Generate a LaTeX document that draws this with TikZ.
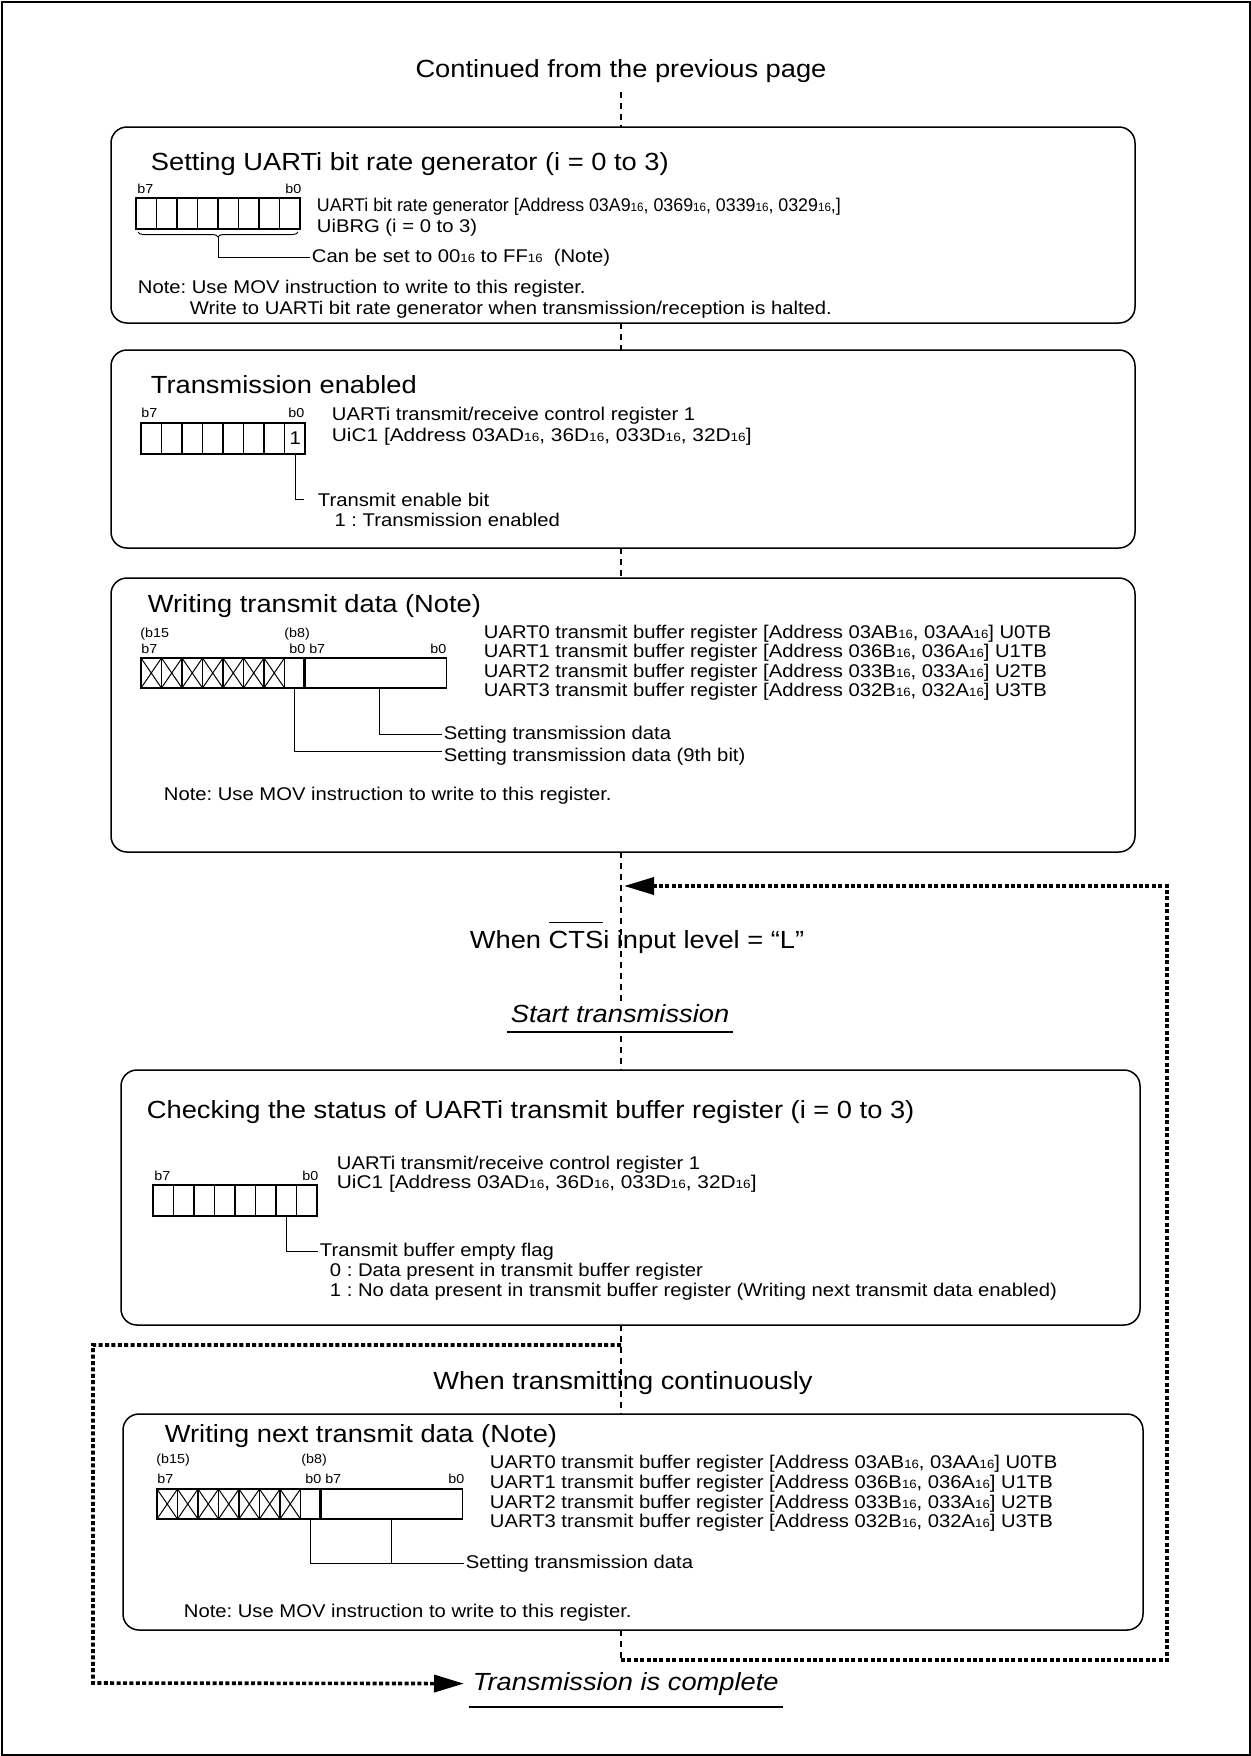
\documentclass[tikz,border=0pt]{standalone}
\usepackage{fontspec}
\usepackage{graphicx}
\setmainfont[FakeStretch=1.1]{Liberation Sans}
\usetikzlibrary{arrows.meta,decorations.pathreplacing}
\frenchspacing
\newcommand{\hx}{{\fontsize{6}{6}\selectfont 16}}
\newcommand{\ovbar}[1]{\setbox0\hbox{#1}\rlap{\rule[12.3pt]{\wd0}{0.7pt}}\box0}
\newcommand{\byteReg}[3]{%
  \draw[reg] (#1,#2) rectangle ++(164,#3);
  \foreach \k in {1,...,7}{\draw[reg] ({#1+20.5*\k},#2) -- ++(0,#3);}
}
\newcommand{\wordReg}[3]{%
  \foreach \k in {0,...,6}{%
    \draw[hatch] ({#1+20.5*\k},#2) -- ++(20.5,#3) ({#1+20.5*\k+20.5},#2) -- ++(-20.5,#3);
    \draw[reg] ({#1+20.5*\k+20.5},#2) -- ++(0,#3);}
  \draw[reg] (#1,#2) rectangle ++(305.5,#3);
  \draw[line width=1.2pt] ({#1+163.5},#2) -- ++(0,#3);
}
\begin{document}
\begin{tikzpicture}[x=0.5pt,y=-0.5pt,
  title/.style={anchor=base west, inner sep=0.75pt, font=\fontsize{12.4}{14}\selectfont},
  body/.style={anchor=base west, inner sep=0.75pt, font=\fontsize{9.2}{11}\selectfont},
  lbl/.style={anchor=base west, inner sep=0pt, font=\fontsize{6.5}{7.5}\selectfont},
  stepbox/.style={draw, line width=0.75pt, rounded corners=8pt, inner sep=0pt, outer sep=0pt},
  cline/.style={line width=0.6pt, dash pattern=on 3pt off 2.5pt},
  loopline/.style={line width=1.8pt, dash pattern=on 2pt off 1.2pt},
  reg/.style={line width=0.8pt},
  hatch/.style={line width=0.5pt},
  lead/.style={line width=0.5pt},
  tip/.style={-{Triangle[length=15pt,width=8.5pt]}}]
\useasboundingbox (0,0) rectangle (1251,1756);
\draw[line width=1pt] (1.5,1.5) rectangle (1249.5,1754.5);
\coordinate (c0) at (621,0);

% heading
\node[anchor=base, inner sep=0.75pt, font=\fontsize{12.4}{14}\selectfont] (cont) at (621,77) {Continued from the previous page};

% ---------------- box 1
\node[stepbox, minimum width=512pt, minimum height=98pt] (b1) at (623,225) {};
\node[title] (t1) at (149,170) {Setting UARTi bit rate generator (i = 0 to 3)};
\node[lbl] (b1l7) at (137,193) {b7};
\node[lbl] (b1l0) at (285,193) {b0};
\byteReg{136}{198}{31}
\draw[lead, decorate, decoration={brace, mirror, amplitude=2.5pt}] (138,232) -- (298,232);
\node[body] (r1a) at (315,211) {\scalebox{0.88}[1]{UARTi bit rate generator [Address 03A9\hx, 0369\hx, 0339\hx, 0329\hx,]}};
\node[body] (r1b) at (315,232) {UiBRG (i = 0 to 3)};
\node[body] (cset) at (310,262) {Can be set to 00\hx{} to FF\hx\ \ (Note)};
\draw[lead] (218,237) |- (cset.west);
\node[body] (n1a) at (136,293) {Note: Use MOV instruction to write to this register.};
\node[body] (n1b) at (188,314) {Write to UARTi bit rate generator when transmission/reception is halted.};

% ---------------- box 2
\node[stepbox, minimum width=512pt, minimum height=99pt] (b2) at (623,449) {};
\node[title] (t2) at (149,393) {Transmission enabled};
\node[lbl] (b2l7) at (141,417) {b7};
\node[lbl] (b2l0) at (288,417) {b0};
\byteReg{141}{423}{31}
\node[inner sep=0pt, font=\fontsize{9.2}{11}\selectfont] (one) at (295.25,438.5) {1};
\node[body] (r2a) at (330,420) {UARTi transmit/receive control register 1};
\node[body] (r2b) at (330,441) {\scalebox{1.03}[1]{UiC1 [Address 03AD\hx, 36D\hx, 033D\hx, 32D\hx]}};
\node[body] (teb) at (316,506) {Transmit enable bit};
\node[body] (teb1) at (327,526) {\ 1 : Transmission enabled};
\draw[lead] (295.25,454) |- ([xshift=-6pt]teb.west);

% ---------------- box 3
\node[stepbox, minimum width=512pt, minimum height=137pt] (b3) at (623,715) {};
\node[title] (t3) at (146,612) {Writing transmit data (Note)};
\node[lbl] (b3a) at (140,637) {(b15};
\node[lbl] (b3b) at (141,653) {b7};
\node[lbl] (b3c) at (284,637) {(b8)};
\node[lbl] (b3d) at (289,653) {b0 b7};
\node[lbl] (b3e) at (430,653) {b0};
\wordReg{141}{658}{30}
\node[body] (u0) at (482,638) {UART0 transmit buffer register [Address 03AB\hx, 03AA\hx] U0TB};
\node[body] (u1) at (482,657.5) {UART1 transmit buffer register [Address 036B\hx, 036A\hx] U1TB};
\node[body] (u2) at (482,677) {UART2 transmit buffer register [Address 033B\hx, 033A\hx] U2TB};
\node[body] (u3) at (482,696.5) {UART3 transmit buffer register [Address 032B\hx, 032A\hx] U3TB};
\node[body] (std) at (442,739) {Setting transmission data};
\node[body] (std9) at (442,761) {Setting transmission data (9th bit)};
\draw[lead] (379,688) |- (std.west);
\draw[lead] (294.5,688) |- ([yshift=2.5pt]std9.west);
\node[body] (n3) at (162,800) {Note: Use MOV instruction to write to this register.};

% ---------------- middle
\node[anchor=base west, inner sep=0.75pt, font=\fontsize{12.4}{14}\selectfont] (cts) at (468,948) {When \ovbar{CTS}i input level = “L”};
\node[anchor=base west, inner sep=0.75pt, font=\fontsize{12.4}{14}\selectfont\itshape] (st) at (509,1022) {Start transmission};
\draw[line width=0.75pt] ([xshift=-1pt,yshift=-5pt]st.base west) -- ([xshift=1pt,yshift=-5pt]st.base east);
\path (st.base -| c0) ++(0,14) coordinate (stlow);

% ---------------- box 4
\node[stepbox, minimum width=509.5pt, minimum height=127.5pt] (b4) at (630.5,1197.5) {};
\node[title] (t4) at (145,1118) {Checking the status of UARTi transmit buffer register (i = 0 to 3)};
\node[lbl] (b4l7) at (154,1180) {b7};
\node[lbl] (b4l0) at (302,1180) {b0};
\byteReg{153}{1185}{31}
\node[body] (r4a) at (335,1169) {UARTi transmit/receive control register 1};
\node[body] (r4b) at (335,1188) {\scalebox{1.03}[1]{UiC1 [Address 03AD\hx, 36D\hx, 033D\hx, 32D\hx]}};
\node[body] (tbf) at (318,1256) {Transmit buffer empty flag};
\node[body] (tbf0) at (328,1276) {0 : Data present in transmit buffer register};
\node[body] (tbf1) at (328,1296) {1 : No data present in transmit buffer register (Writing next transmit data enabled)};
\draw[lead] (286.25,1216) |- (tbf.west);

% ---------------- box 5
\node[anchor=base, inner sep=0.75pt, font=\fontsize{12.4}{14}\selectfont] (cont2) at (623,1389) {When transmitting continuously};
\node[stepbox, minimum width=510pt, minimum height=108pt] (b5) at (633,1522) {};
\node[title] (t5) at (163,1442) {Writing next transmit data (Note)};
\node[lbl] (b5a) at (156,1463) {(b15)};
\node[lbl] (b5b) at (157,1483) {b7};
\node[lbl] (b5c) at (301,1463) {(b8)};
\node[lbl] (b5d) at (305,1483) {b0 b7};
\node[lbl] (b5e) at (448,1483) {b0};
\wordReg{157}{1489}{30}
\node[body] (v0) at (488,1468) {UART0 transmit buffer register [Address 03AB\hx, 03AA\hx] U0TB};
\node[body] (v1) at (488,1488) {UART1 transmit buffer register [Address 036B\hx, 036A\hx] U1TB};
\node[body] (v2) at (488,1508) {UART2 transmit buffer register [Address 033B\hx, 033A\hx] U2TB};
\node[body] (v3) at (488,1527) {UART3 transmit buffer register [Address 032B\hx, 032A\hx] U3TB};
\node[body] (std5) at (464,1568) {Setting transmission data};
\draw[lead] (310.5,1519) |- (std5.west);
\draw[lead] (391,1519) |- (std5.west);
\node[body] (n5) at (182,1617) {Note: Use MOV instruction to write to this register.};

% ---------------- end
\node[anchor=base west, inner sep=0.75pt, font=\fontsize{12.4}{14}\selectfont\itshape] (done) at (471,1690) {Transmission is complete};
\draw[line width=0.75pt] ([xshift=-1pt,yshift=-8.5pt]done.base west) -- ([xshift=1pt,yshift=-8.5pt]done.base east);

% ---------------- centre flow line
\draw[cline] ([yshift=-4pt]cont.south -| c0) -- (b1.north -| c0);
\draw[cline] (b1.south -| c0) -- (b2.north -| c0);
\draw[cline] (b2.south -| c0) -- (b3.north -| c0);
\draw[cline] (b3.south -| c0) -- (st.north -| c0);
\draw[cline] (stlow) -- (b4.north -| c0);
\draw[cline] (b4.south -| c0) -- (b5.north -| c0);
\coordinate (rloop) at (621,1660);
\coordinate (rtip) at (624,886);
\coordinate (lstart) at (621,1345);
\draw[cline] (b5.south -| c0) -- (rloop);

% ---------------- dotted loops
\draw[loopline, tip] (rloop) -- (1167,1660) -- (1167,886) -- (rtip);
\draw[loopline, tip] (lstart) -- (93,1345) -- (93,1683) -- ([xshift=-3.5pt]done.west);
\end{tikzpicture}
\end{document}
